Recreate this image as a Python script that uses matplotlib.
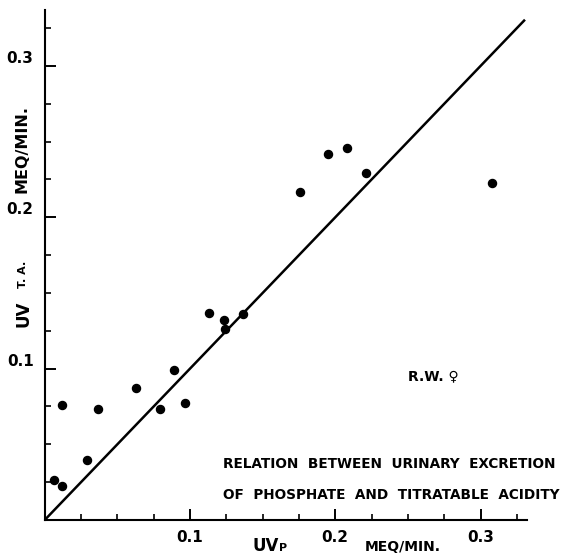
import matplotlib
matplotlib.use("Agg")
import matplotlib.pyplot as plt
from matplotlib.ticker import MultipleLocator

# datos (mEq/min)
uv_p = [0.0066, 0.0117, 0.0117, 0.0289, 0.0369, 0.0627, 0.0795, 0.0891, 0.0967,
        0.1130, 0.1231, 0.1243, 0.1367, 0.1755, 0.1948, 0.2083, 0.2210, 0.3080]
uv_ta = [0.0264, 0.0225, 0.0762, 0.0397, 0.0732, 0.0874, 0.0732, 0.0991, 0.0775,
         0.1366, 0.1320, 0.1260, 0.1360, 0.2168, 0.2421, 0.2457, 0.2295, 0.2225]
identidad = [0.0, 0.33]
ticks_mayores = [0.1, 0.2, 0.3]
etiquetas = ["0.1", "0.2", "0.3"]

W, H = 564, 556
fig = plt.figure(figsize=(W / 100, H / 100), dpi=100)
ax = fig.add_axes([44.7 / W, 36 / H, (527 - 44.7) / W, 510 / H])

def px(x, y):
    # coordenadas en pixeles de la imagen -> fracción de figura
    return x / W, 1 - y / H

ax.plot(identidad, identidad, color="black", lw=1.8)
ax.plot(uv_p, uv_ta, "o", color="black", markersize=5.8)

ax.set_xlim(0, 0.332)
ax.set_ylim(0, 0.337)

for lado in ["top", "right"]:
    ax.spines[lado].set_visible(False)
for lado in ["left", "bottom"]:
    ax.spines[lado].set_linewidth(1.5)

ax.set_xticks(ticks_mayores)
ax.set_xticklabels(etiquetas)
ax.set_yticks(ticks_mayores)
ax.set_yticklabels(etiquetas)
ax.xaxis.set_minor_locator(MultipleLocator(0.025))
ax.yaxis.set_minor_locator(MultipleLocator(0.025))
ax.tick_params(which="major", direction="in", length=8, width=1.4, labelsize=11)
ax.tick_params(which="minor", direction="in", length=4, width=1.2)
ax.tick_params(axis="x", which="major", pad=7)
ax.tick_params(axis="y", which="major", pad=8)
for lab in ax.get_xticklabels() + ax.get_yticklabels():
    lab.set_fontweight("bold")
for lab in ax.get_yticklabels():
    lab.set_va("bottom")

# etiqueta eje x
fig.text(*px(253, 551), "UV", fontsize=12, fontweight="bold", ha="left", va="baseline")
fig.text(*px(279, 551), "P", fontsize=8, fontweight="bold", ha="left", va="baseline")
fig.text(*px(365, 551), "MEQ/MIN.", fontsize=10, fontweight="bold", ha="left", va="baseline")

# etiqueta eje y
fig.text(*px(28, 327), "UV", fontsize=12, fontweight="bold", rotation=90,
         ha="left", va="baseline", rotation_mode="anchor")
fig.text(*px(26, 288), "T. A.", fontsize=8, fontweight="bold", rotation=90,
         ha="left", va="baseline", rotation_mode="anchor")
fig.text(*px(26, 193), "MEQ/MIN.", fontsize=11.5, fontweight="bold", rotation=90,
         ha="left", va="baseline", rotation_mode="anchor")

fig.text(*px(223, 468), "RELATION  BETWEEN  URINARY  EXCRETION", fontsize=9.8,
         fontweight="bold", ha="left", va="baseline")
fig.text(*px(223, 499), "OF  PHOSPHATE  AND  TITRATABLE  ACIDITY", fontsize=9.8,
         fontweight="bold", ha="left", va="baseline")
fig.text(*px(408, 380), "R.W. \u2640", fontsize=10, fontweight="bold", ha="left", va="baseline")

fig.savefig("out.png", dpi=100)
